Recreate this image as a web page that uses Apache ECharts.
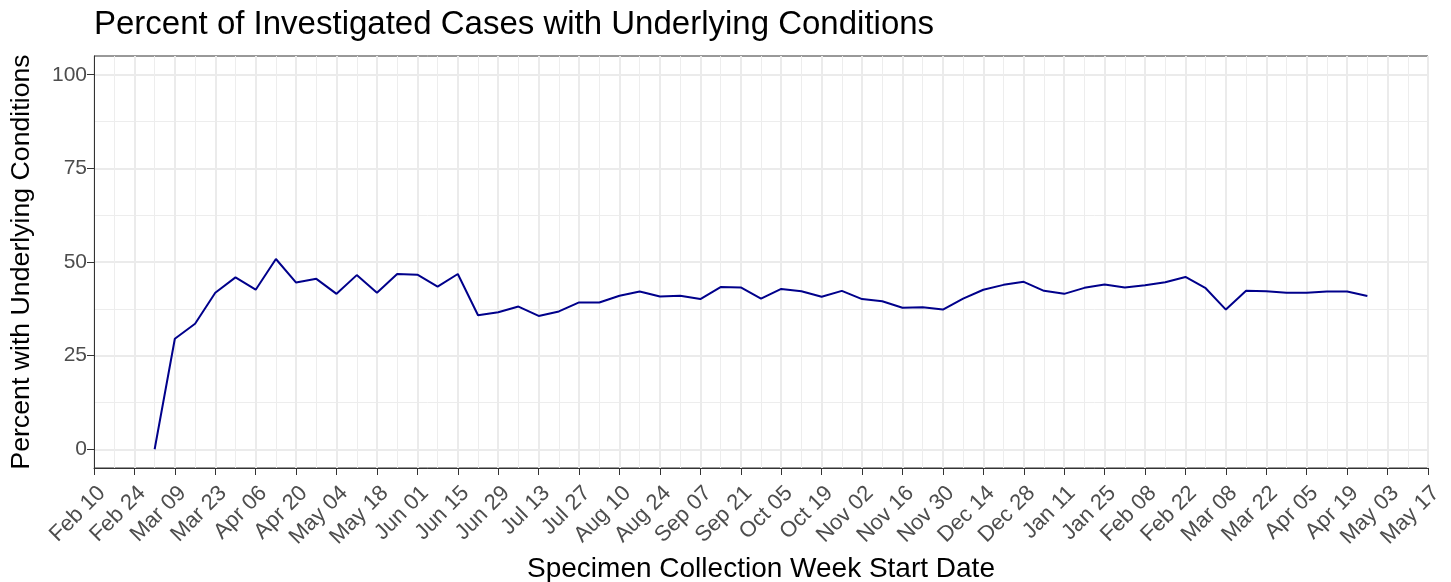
<!DOCTYPE html>
<html>
<head>
<meta charset="utf-8">
<script src="https://cdn.jsdelivr.net/npm/echarts@6/dist/echarts.min.js"></script>
<style>
  html, body { margin: 0; padding: 0; background: #fff; }
  #chart { width: 1451px; height: 582px; }
</style>
</head>
<body>
<div id="chart"></div>
<script>
// week start dates of the data points
const weeks = [
  "2020-03-02", "2020-03-09", "2020-03-16", "2020-03-23", "2020-03-30",
  "2020-04-06", "2020-04-13", "2020-04-20", "2020-04-27", "2020-05-04",
  "2020-05-11", "2020-05-18", "2020-05-25", "2020-06-01", "2020-06-08",
  "2020-06-15", "2020-06-22", "2020-06-29", "2020-07-06", "2020-07-13",
  "2020-07-20", "2020-07-27", "2020-08-03", "2020-08-10", "2020-08-17",
  "2020-08-24", "2020-08-31", "2020-09-07", "2020-09-14", "2020-09-21",
  "2020-09-28", "2020-10-05", "2020-10-12", "2020-10-19", "2020-10-26",
  "2020-11-02", "2020-11-09", "2020-11-16", "2020-11-23", "2020-11-30",
  "2020-12-07", "2020-12-14", "2020-12-21", "2020-12-28", "2021-01-04",
  "2021-01-11", "2021-01-18", "2021-01-25", "2021-02-01", "2021-02-08",
  "2021-02-15", "2021-02-22", "2021-03-01", "2021-03-08", "2021-03-15",
  "2021-03-22", "2021-03-29", "2021-04-05", "2021-04-12", "2021-04-19",
  "2021-04-26"
];

// percent with underlying conditions
const pct = [
  0, 29.5, 33.5, 41.8, 45.9,
  42.6, 50.8, 44.5, 45.5, 41.5,
  46.5, 41.8, 46.8, 46.6, 43.4,
  46.8, 35.8, 36.6, 38.1, 35.6,
  36.8, 39.2, 39.2, 41.0, 42.1,
  40.8, 41.0, 40.1, 43.3, 43.2,
  40.2, 42.8, 42.2, 40.7, 42.3,
  40.1, 39.5, 37.8, 37.9, 37.3,
  40.2, 42.6, 43.9, 44.7, 42.3,
  41.5, 43.1, 44.0, 43.2, 43.8,
  44.6, 46.0, 43.0, 37.3, 42.3,
  42.2, 41.8, 41.8, 42.1, 42.1,
  40.9
];

// axis range and ticks
const xStart = "2020-02-10";
const xEnd = "2021-05-17";
const yTicks = [0, 25, 50, 75, 100];
const yMinorTicks = [12.5, 37.5, 62.5, 87.5];
const monthNames = ["Jan", "Feb", "Mar", "Apr", "May", "Jun", "Jul", "Aug", "Sep", "Oct", "Nov", "Dec"];

// weekly category list over the axis span
function isoDay(d) {
  return d.toISOString().slice(0, 10);
}
const allWeeks = [];
for (let d = new Date(xStart + "T00:00:00Z"); isoDay(d) <= xEnd; d.setUTCDate(d.getUTCDate() + 7)) {
  allWeeks.push(isoDay(d));
}
function fmtDate(s) {
  const m = +s.slice(5, 7);
  return monthNames[m - 1] + " " + s.slice(8, 10);
}

const font = "Liberation Sans, Arial, sans-serif";
const myChart = echarts.init(document.getElementById("chart"));
const option = {
  animation: false,
  title: {
    text: "Percent of Investigated Cases with Underlying Conditions",
    left: 89,
    top: 3,
    textStyle: { fontFamily: font, fontSize: 33, fontWeight: "normal", color: "#000" },
  },
  grid: {
    left: 94,
    right: 23,
    top: 56,
    bottom: 114,
    outerBoundsMode: "none",
    show: true,
    borderColor: "#333",
    borderWidth: 1,
  },
  xAxis: [
    {
      type: "category",
      data: allWeeks,
      boundaryGap: false,
      name: "Specimen Collection Week Start Date",
      nameLocation: "middle",
      nameGap: 84,
      nameTextStyle: { fontFamily: font, fontSize: 28, color: "#000" },
      axisLine: { onZero: false, lineStyle: { color: "#333", width: 1 } },
      axisTick: { show: true, interval: 1, length: 7, lineStyle: { color: "#333" } },
      axisLabel: {
        interval: 1,
        rotate: 45,
        margin: 14,
        verticalAlign: "top",
        fontFamily: font,
        fontSize: 22,
        color: "#4d4d4d",
        formatter: fmtDate,
      },
      splitLine: {
        show: true,
        interval: (i) => i % 2 === 0,
        lineStyle: { color: "#ebebeb", width: 2 },
      },
    },
    {
      type: "category",
      data: allWeeks,
      boundaryGap: false,
      position: "top",
      axisLine: { show: false, onZero: false },
      axisTick: { show: false },
      axisLabel: { show: false },
      splitLine: {
        show: true,
        interval: (i) => i % 2 === 1,
        lineStyle: { color: "#ededed", width: 1 },
      },
    },
  ],
  yAxis: [
    {
      type: "value",
      min: -5,
      max: 105,
      name: "Percent with Underlying Conditions",
      nameLocation: "middle",
      nameRotate: 90,
      nameGap: 59,
      nameTextStyle: { fontFamily: font, fontSize: 26.7, color: "#000" },
      axisLine: { show: true, onZero: false, lineStyle: { color: "#333", width: 1 } },
      axisTick: { show: true, length: 7, customValues: yTicks, lineStyle: { color: "#333" } },
      axisLabel: {
        customValues: yTicks,
        margin: 7,
        fontFamily: font,
        fontSize: 21,
        color: "#4d4d4d",
      },
      splitLine: { show: true, lineStyle: { color: "#ebebeb", width: 2 } },
    },
    {
      type: "value",
      min: -5,
      max: 105,
      position: "right",
      axisLine: { show: false, onZero: false },
      axisTick: { show: false, customValues: yMinorTicks },
      axisLabel: { show: false, customValues: yMinorTicks },
      splitLine: { show: true, lineStyle: { color: "#ededed", width: 1 } },
    },
  ],
  series: [
    {
      type: "line",
      data: weeks.map((w, i) => [w, pct[i]]),
      showSymbol: false,
      lineStyle: { color: "#00008B", width: 2 },
      itemStyle: { color: "#00008B" },
      z: 5,
    },
  ],
};
myChart.setOption(option);
</script>
</body>
</html>
